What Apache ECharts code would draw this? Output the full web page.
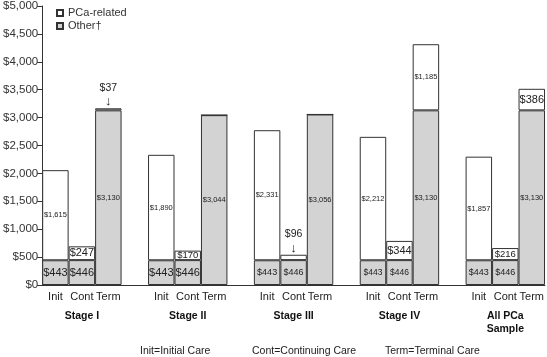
<!DOCTYPE html>
<html>
<head>
<meta charset="utf-8">
<script src="https://cdn.jsdelivr.net/npm/echarts@6/dist/echarts.min.js"></script>
<style>
html,body{margin:0;padding:0;background:#fff;}
#chart{width:547px;height:357px;}
</style>
</head>
<body>
<div id="chart"></div>
<script>
// data
var groups = ['Stage I', 'Stage II', 'Stage III', 'Stage IV', 'All PCa\nSample'];
var careTypes = ['Init', 'Cont', 'Term'];
var otherVals = [[443, 446, 3130], [443, 446, 3044], [443, 446, 3056], [443, 446, 3130], [443, 446, 3130]];
var pcaVals = [[1615, 247, 37], [1890, 170, 0], [2331, 96, 0], [2212, 344, 1185], [1857, 216, 386]];
var footNotes = ['Init=Initial Care', 'Cont=Continuing Care', 'Term=Terminal Care'];

// label font sizes (style only)
var otherFont = [[11, 11, 7.5], [11, 11, 7.5], [9, 9, 7.5], [8.5, 8.5, 7.5], [9, 9, 7.5]];
var pcaFont = [[7.5, 11, 10.5], [7.5, 9.5, 0], [7.5, 10.5, 0], [7.5, 11, 7.5], [7.5, 9.5, 11]];
var pcaArrow = [[0, 0, 1], [0, 0, 0], [0, 1, 0], [0, 0, 0], [0, 0, 0]];

var font = 'Liberation Sans, Arial, sans-serif';

function money(v){
    return '$' + String(v).replace(/\B(?=(\d{3})+(?!\d))/g, ',');
}

var cats = [], stageCats = [], otherData = [], pcaData = [];
for (var g = 0; g < groups.length; g++) {
    for (var c = 0; c < careTypes.length; c++) {
        cats.push(careTypes[c]);
        stageCats.push(c == 1 ? groups[g] : '');
        otherData.push({
            value: otherVals[g][c],
            label: {show: true, position: 'inside', fontSize: otherFont[g][c], formatter: money(otherVals[g][c])}
        });
        var pv = pcaVals[g][c];
        if (pv == 0) {
            pcaData.push({value: 0, label: {show: false}});
        } else if (pcaArrow[g][c]) {
            pcaData.push({
                value: pv,
                label: {
                    show: true, position: 'top', distance: 0,
                    formatter: '{a|' + money(pv) + '}\n{b|↓}',
                    rich: {
                        a: {fontSize: pcaFont[g][c], fontFamily: font, color: '#222', lineHeight: 15},
                        b: {fontSize: 13, color: '#222', lineHeight: 13}
                    }
                }
            });
        } else {
            pcaData.push({
                value: pv,
                label: {show: true, position: 'inside', fontSize: pcaFont[g][c], formatter: money(pv)}
            });
        }
    }
    if (g < groups.length - 1) {
        cats.push('');
        stageCats.push('');
        otherData.push('-');
        pcaData.push('-');
    }
}

var myChart = echarts.init(document.getElementById('chart'));
var option = {
    animation: false,
    textStyle: {fontFamily: font},
    grid: {left: 42, right: 2, top: 5, bottom: 72},
    legend: {
        orient: 'vertical',
        left: 51,
        top: 2,
        itemWidth: 6,
        itemHeight: 6,
        itemGap: 1,
        icon: 'rect',
        data: ['PCa-related', 'Other†'],
        textStyle: {fontSize: 11, color: '#333', lineHeight: 12}
    },
    xAxis: [{
        type: 'category',
        data: cats,
        axisLine: {lineStyle: {color: '#333', width: 1}},
        axisTick: {show: false},
        axisLabel: {interval: 0, fontSize: 11, color: '#222', margin: 6}
    }, {
        type: 'category',
        data: stageCats,
        position: 'bottom',
        offset: 17,
        axisLine: {show: false},
        axisTick: {show: false},
        axisLabel: {interval: 0, fontSize: 10.5, fontWeight: 'bold', color: '#111', lineHeight: 13,
            verticalAlign: 'top', margin: 8}
    }],
    yAxis: {
        type: 'value',
        min: 0,
        max: 5000,
        interval: 500,
        axisLine: {show: true, lineStyle: {color: '#333', width: 1}},
        axisTick: {show: true, length: 5, lineStyle: {color: '#333'}},
        splitLine: {show: false},
        axisLabel: {fontSize: 11.5, color: '#333', margin: 4, formatter: money}
    },
    series: [{
        name: 'Other†',
        type: 'bar',
        stack: 'cost',
        barWidth: '100%',
        data: otherData,
        itemStyle: {color: '#d3d3d3', borderColor: '#333', borderWidth: 1},
        label: {color: '#222'}
    }, {
        name: 'PCa-related',
        type: 'bar',
        stack: 'cost',
        barWidth: '100%',
        data: pcaData,
        itemStyle: {color: '#ffffff', borderColor: '#333', borderWidth: 1},
        label: {color: '#222'}
    }],
    graphic: [
        {type: 'text', left: 140, top: 346, style: {text: footNotes[0], fontSize: 10.5, fill: '#222', fontFamily: font}},
        {type: 'text', left: 252, top: 346, style: {text: footNotes[1], fontSize: 10.5, fill: '#222', fontFamily: font}},
        {type: 'text', left: 385, top: 346, style: {text: footNotes[2], fontSize: 10.5, fill: '#222', fontFamily: font}}
    ]
};
myChart.setOption(option, true);
</script>
</body>
</html>
